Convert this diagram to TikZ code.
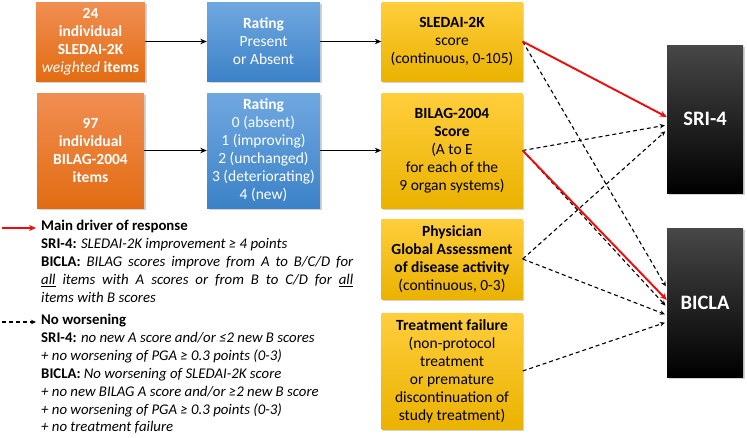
\documentclass[tikz,border=0pt]{standalone}
\usepackage{fontspec}
\setmainfont{Carlito}
\usetikzlibrary{arrows.meta,shadows,calc}
\definecolor{orTop}{RGB}{241,142,82}
\definecolor{orBot}{RGB}{226,108,18}
\definecolor{blTop}{RGB}{112,168,224}
\definecolor{blBot}{RGB}{60,130,200}
\definecolor{yeTop}{RGB}{255,206,60}
\definecolor{yeBot}{RGB}{234,178,0}
\definecolor{redArr}{RGB}{240,10,10}
\tikzset{
  box/.style={rectangle, inner sep=2pt, align=center, font=\fontsize{15.5}{18}\selectfont,
    drop shadow={opacity=0.35, shadow xshift=1.5pt, shadow yshift=-1.5pt}},
  obox/.style={box, top color=orTop, bottom color=orBot, text=white, font=\fontsize{15.5}{18}\selectfont\bfseries},
  bbox/.style={box, top color=blTop, bottom color=blBot, text=white},
  ybox/.style={box, top color=yeTop, bottom color=yeBot, text=black, minimum width=141pt},
  kbox/.style={box, top color=black!72, middle color=black, bottom color=black, text=white,
    minimum width=76pt, font=\fontsize{20.5}{24}\selectfont\bfseries},
  harr/.style={-{Stealth[length=6.5pt,width=5.5pt]}, line width=1.7pt, black},
  redarr/.style={-{Stealth[length=7pt,width=6pt]}, line width=1.9pt, redArr},
  dasharr/.style={-{Stealth[length=5pt,width=4.5pt]}, line width=1.1pt, black, dash pattern=on 4pt off 3pt, shorten >=2pt},
  legtext/.style={inner sep=0pt, anchor=north west, font=\fontsize{14.8}{17.9}\selectfont}
}
\begin{document}
\begin{tikzpicture}[x=1pt,y=-1pt]
\useasboundingbox (0,0) rectangle (747,437);
% left column
\node[obox, minimum width=109pt, minimum height=79pt] (o1) at (90.5,41.5) {24\\individual\\SLEDAI-2K\\{\mdseries\itshape weighted} items};
\node[obox, minimum width=107pt, minimum height=115pt] (o2) at (90.5,150.5) {97\\individual\\BILAG-2004\\items};
% blue
\node[bbox, minimum width=113pt, minimum height=79pt] (b1) at (263.5,41.5) {\textbf{Rating}\\Present\\or Absent};
\node[bbox, minimum width=113pt, minimum height=115pt] (b2) at (263.5,150.5) {\textbf{Rating}\\0 (absent)\\1 (improving)\\2 (unchanged)\\3 (deteriorating)\\4 (new)};
% yellow
\node[ybox, minimum height=79pt] (y1) at (452,41.5) {\textbf{SLEDAI-2K}\\score\\(continuous, 0-105)};
\node[ybox, minimum height=115pt] (y2) at (452,150.5) {\textbf{BILAG-2004}\\\textbf{Score}\\(A to E\\for each of the\\9 organ systems)};
\node[ybox, minimum height=80pt] (y3) at (452,259) {\textbf{Physician}\\\textbf{Global Assessment}\\\textbf{of disease activity}\\(continuous, 0-3)};
\node[ybox, minimum height=116pt] (y4) at (452,371) {\textbf{Treatment failure}\\(non-protocol\\treatment\\or premature\\discontinuation of\\study treatment)};
% outcomes
\node[kbox, minimum height=148pt] (sri) at (705,119) {SRI-4};
\node[kbox, minimum height=149pt] (bicla) at (705,302.5) {BICLA};
% horizontal arrows
\draw[harr] (o1) -- (b1);
\draw[harr] (b1) -- (y1);
\draw[harr] (o2) -- (b2);
\draw[harr] (b2) -- (y2);
% outcome arrows
\draw[dasharr] (y1.east) -- ([yshift=14.5pt]bicla.west);
\draw[dasharr] (y2.east) -- ([yshift=-6pt]sri.west);
\draw[dasharr] (y2.east) -- ([yshift=-4.5pt]bicla.west);
\draw[dasharr] (y3.east) -- ([yshift=-11pt]sri.west);
\draw[dasharr] (y3.east) -- ([yshift=-12.5pt]bicla.west);
\draw[dasharr] (y4.east) -- ([yshift=-19.5pt]bicla.west);
\draw[redarr] (y1.east) -- ([yshift=2pt]sri.west);
\draw[redarr] (y2.east) -- ([yshift=2.5pt]bicla.west);
% legend
\coordinate (lr1) at (2,228);
\coordinate (lr2) at (36,228);
\coordinate (ld1) at (2,322);
\coordinate (ld2) at (36,322);
\draw[redarr] (lr1) -- (lr2);
\draw[dasharr, shorten >=0pt] (ld1) -- (ld2);
\node[legtext, text width=312pt, align=justify] (leg1) at (41,220) {\textbf{Main driver of response}\\
\textbf{SRI-4:} \textit{SLEDAI-2K improvement ≥ 4 points}\\
\textbf{BICLA:} \textit{BILAG scores improve from A to B/C/D for\linebreak
\underline{all} items with A scores or from B to C/D for \underline{all}\linebreak
items with B scores}};
\node[legtext, align=left] (leg2) at (41,314) {\textbf{No worsening}\\
\textbf{SRI-4:} \textit{no new A score and/or ≤2 new B scores}\\
\textit{+ no worsening of PGA ≥ 0.3 points (0-3)}\\
\textbf{BICLA:} \textit{No worsening of SLEDAI-2K score}\\
\textit{+ no new BILAG A score and/or ≥2 new B score}\\
\textit{+ no worsening of PGA ≥ 0.3 points (0-3)}\\
\textit{+ no treatment failure}};
\end{tikzpicture}
\end{document}
